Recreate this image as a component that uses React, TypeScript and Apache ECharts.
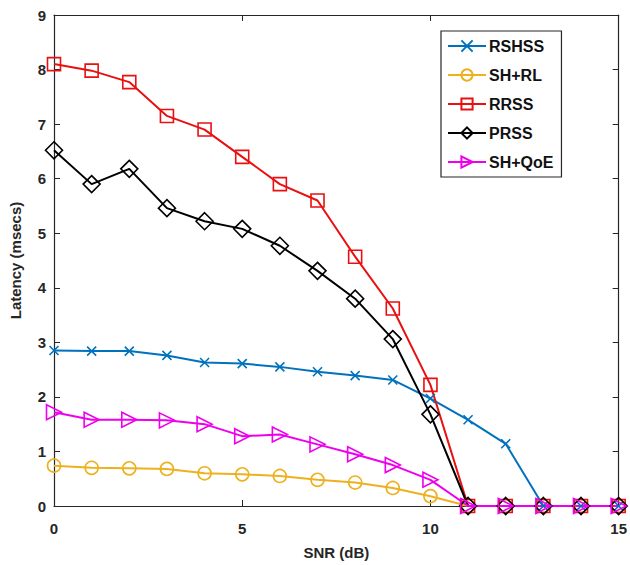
import React, { useEffect, useRef } from "react";
import * as echarts from "echarts";

const snr = [0, 1, 2, 3, 4, 5, 6, 7, 8, 9, 10, 11, 12, 13, 14, 15];
const rshss = [2.85, 2.84, 2.84, 2.76, 2.63, 2.61, 2.55, 2.46, 2.39, 2.31, 1.97, 1.58, 1.14, 0, 0, 0];
const shrl = [0.74, 0.7, 0.69, 0.68, 0.6, 0.58, 0.55, 0.48, 0.43, 0.33, 0.18, 0, 0, 0, 0, 0];
const rrss = [8.1, 7.98, 7.77, 7.15, 6.9, 6.4, 5.9, 5.6, 4.57, 3.62, 2.22, 0, 0, 0, 0, 0];
const prss = [6.52, 5.9, 6.18, 5.46, 5.22, 5.08, 4.77, 4.31, 3.8, 3.06, 1.68, 0, 0, 0, 0, 0];
const shqoe = [1.72, 1.58, 1.58, 1.57, 1.5, 1.28, 1.31, 1.13, 0.95, 0.75, 0.48, 0, 0, 0, 0, 0];

const FONT = "Liberation Sans, Arial, sans-serif";
const CROSS = "path://M0,0L10,10M10,0L0,10";
const TRI_RIGHT = "path://M0,0L10,5L0,10Z";

export default function App() {
  const ref = useRef<HTMLDivElement>(null);
  useEffect(() => {
    document.body.style.margin = "0";
    if (!ref.current) return;
    const chart = echarts.init(ref.current, undefined, { renderer: "svg" });
    const mk = (
      name: string,
      vals: number[],
      color: string,
      symbol: string,
      size: number
    ) => ({
      name,
      type: "line",
      data: snr.map((x, i) => [x, vals[i]]),
      symbol,
      symbolSize: size,
      showAllSymbol: true,
      lineStyle: { color, width: 2, type: "solid" },
      itemStyle: { color: "rgba(255,255,255,0)", borderColor: color, borderWidth: 1.6, borderType: "solid" },
      emphasis: { disabled: true },
    });
    const axisCommon = {
      axisLine: { show: true, onZero: false, lineStyle: { color: "#262626", width: 1.2 } },
      axisTick: { show: true, inside: true, length: 6, lineStyle: { color: "#262626" } },
      splitLine: { show: false },
    };
    chart.setOption({
      animation: false,
      backgroundColor: "#ffffff",
      grid: { left: 50, right: 6, top: 15, bottom: 54 },
      legend: {
        orient: "vertical",
        left: 441,
        top: 31,
        width: 133,
        itemWidth: 38,
        itemHeight: 14,
        itemGap: 13,
        padding: [7, 8, 7, 6],
        borderColor: "#262626",
        borderWidth: 1.2,
        backgroundColor: "#ffffff",
        textStyle: { fontFamily: FONT, fontSize: 16, fontWeight: "bold", color: "#111", padding: [0, 0, 0, -2] },
        data: ["RSHSS", "SH+RL", "RRSS", "PRSS", "SH+QoE"],
      },
      xAxis: [
        {
          type: "value",
          min: 0,
          max: 15,
          interval: 5,
          name: "SNR (dB)",
          nameLocation: "middle",
          nameGap: 39,
          nameTextStyle: { fontFamily: FONT, fontSize: 15, fontWeight: "bold", color: "#262626" },
          axisLabel: { fontFamily: FONT, fontSize: 15, fontWeight: "bold", color: "#262626", margin: 15 },
          ...axisCommon,
        },
        {
          type: "value",
          position: "top",
          min: 0,
          max: 15,
          interval: 5,
          axisLabel: { show: false },
          ...axisCommon,
        },
      ],
      yAxis: [
        {
          type: "value",
          min: 0,
          max: 9,
          interval: 1,
          name: "Latency (msecs)",
          nameLocation: "middle",
          nameGap: 31,
          nameTextStyle: { fontFamily: FONT, fontSize: 15, fontWeight: "bold", color: "#262626" },
          axisLabel: { fontFamily: FONT, fontSize: 15, fontWeight: "bold", color: "#262626", margin: 8 },
          ...axisCommon,
        },
        {
          type: "value",
          position: "right",
          min: 0,
          max: 9,
          interval: 1,
          axisLabel: { show: false },
          ...axisCommon,
        },
      ],
      series: [
        mk("RSHSS", rshss, "#0072BD", CROSS, 9),
        mk("SH+RL", shrl, "#EDB120", "circle", 13),
        mk("RRSS", rrss, "#E81010", "rect", 13),
        mk("PRSS", prss, "#000000", "diamond", 17),
        mk("SH+QoE", shqoe, "#EE00EE", TRI_RIGHT, 15),
      ],
    });
    return () => chart.dispose();
  }, []);
  return <div ref={ref} style={{ width: 630, height: 565 }} />;
}
